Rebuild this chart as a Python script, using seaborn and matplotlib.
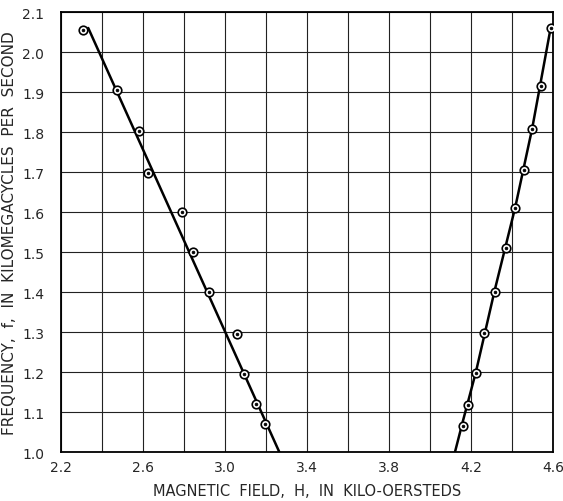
import numpy as np
import pandas as pd
import matplotlib
matplotlib.use("Agg")
import matplotlib.pyplot as plt
import seaborn as sns

# measured points, lower-field branch
h_left = [2.309, 2.472, 2.579, 2.623, 2.790, 2.842, 2.923, 3.060, 3.091, 3.150, 3.194]
f_left = [2.055, 1.906, 1.803, 1.698, 1.601, 1.500, 1.400, 1.296, 1.196, 1.119, 1.071]

# measured points, upper-field branch
h_right = [4.162, 4.184, 4.224, 4.263, 4.316, 4.369, 4.416, 4.457, 4.499, 4.543, 4.590]
f_right = [1.066, 1.118, 1.198, 1.298, 1.401, 1.509, 1.611, 1.704, 1.807, 1.914, 2.061]

# drawn curves
curve_h_left = [2.333, 3.265]
curve_f_left = [2.060, 1.000]
curve_h_right = [4.122, 4.162, 4.224, 4.316, 4.416, 4.499, 4.590]
curve_f_right = [1.000, 1.080, 1.200, 1.405, 1.612, 1.810, 2.064]

x_ticks = [2.2, 2.6, 3.0, 3.4, 3.8, 4.2, 4.6]
y_ticks = [1.0, 1.1, 1.2, 1.3, 1.4, 1.5, 1.6, 1.7, 1.8, 1.9, 2.0, 2.1]

sns.set_style("white")
plt.rcParams['font.family'] = ['DejaVu Sans']

pts = pd.DataFrame({"H": h_left + h_right, "f": f_left + f_right})

fig = plt.figure(figsize=(5.63, 5.02), dpi=100)
ax = fig.add_axes([0.1083, 0.0976, 0.8739, 0.8765])

sns.lineplot(x=curve_h_left, y=curve_f_left, sort=False, color="black", lw=1.8, ax=ax)
sns.lineplot(x=curve_h_right, y=curve_f_right, sort=False, color="black", lw=1.8, ax=ax)
sns.scatterplot(data=pts, x="H", y="f", s=38, facecolor="white", edgecolor="black",
                linewidth=1.2, zorder=5, ax=ax)
sns.scatterplot(data=pts, x="H", y="f", s=4, color="black", edgecolor="black",
                linewidth=0.5, zorder=6, ax=ax)

ax.set_xlim(2.2, 4.6)
ax.set_ylim(1.0, 2.1)
ax.set_xticks(x_ticks)
ax.set_xticklabels([f"{v:.1f}" for v in x_ticks])
ax.set_xticks(np.arange(2.2, 4.61, 0.2), minor=True)
ax.set_yticks(y_ticks)
ax.set_yticklabels([f"{v:.1f}" for v in y_ticks])
ax.grid(True, which="both", color="#222222", lw=0.8)
ax.set_axisbelow(True)
ax.tick_params(which="both", length=0)
ax.tick_params(axis="x", pad=6, labelsize=10)
ax.tick_params(axis="y", pad=12, labelsize=10)
for s in ax.spines.values():
    s.set_color("black")
    s.set_linewidth(1.3)

ax.set_xlabel("MAGNETIC  FIELD,  H,  IN  KILO-OERSTEDS", fontsize=10.5, labelpad=6)
ax.set_ylabel("FREQUENCY,  f,  IN  KILOMEGACYCLES  PER  SECOND", fontsize=11, labelpad=4)

fig.savefig("out.png", dpi=100)
